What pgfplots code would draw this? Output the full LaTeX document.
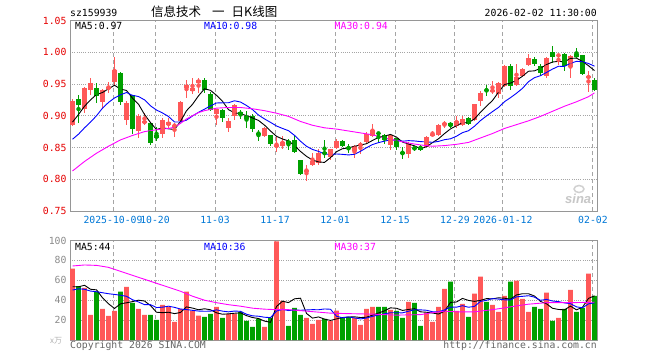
\documentclass[border=0pt]{standalone}
\usepackage{pgfplots}
\pgfplotsset{compat=1.18}
\usepackage{pgfplotstable}
\usepackage{fontspec}
\setmainfont{DejaVu Sans Mono}
\newfontfamily\cjk{Noto Sans CJK SC}
\newfontfamily\logofont{Liberation Sans}
\definecolor{upred}{RGB}{255,88,88}
\definecolor{dngreen}{RGB}{0,160,0}
\definecolor{tickblue}{RGB}{0,120,215}
\definecolor{framegray}{RGB}{150,150,150}
\definecolor{gridgray}{RGB}{165,165,165}
\definecolor{mablue}{RGB}{0,0,255}
\definecolor{mamag}{RGB}{255,0,255}
\definecolor{axred}{RGB}{230,0,0}
\definecolor{labgray}{RGB}{140,140,140}

\pgfplotstableread{
n o h l c v
0 0.886 0.926 0.884 0.924 71.7
2 0.911 0.946 0.904 0.944 52.5
3 0.941 0.959 0.933 0.951 25.3
5 0.921 0.942 0.910 0.940 31.3
6 0.942 0.953 0.936 0.946 24.2
7 0.953 0.992 0.949 0.972 29.3
9 0.893 0.924 0.885 0.920 53.5
11 0.876 0.902 0.865 0.899 31.3
12 0.889 0.905 0.886 0.891 25.3
15 0.872 0.896 0.865 0.894 35.4
16 0.885 0.896 0.879 0.890 33.3
17 0.883 0.889 0.867 0.886 18.2
18 0.892 0.923 0.890 0.921 31.3
19 0.943 0.956 0.928 0.949 48.5
20 0.939 0.959 0.935 0.944 29.3
21 0.951 0.959 0.936 0.957 24.6
24 0.903 0.911 0.886 0.910 33.3
26 0.881 0.896 0.874 0.891 26.3
27 0.899 0.919 0.894 0.917 26.3
32 0.868 0.882 0.867 0.880 13.1
34 0.852 0.866 0.843 0.853 99.0
35 0.852 0.868 0.847 0.858 39.4
39 0.813 0.822 0.797 0.8145 22.2
40 0.822 0.841 0.821 0.829 16.2
41 0.825 0.847 0.822 0.841 20.2
43 0.835 0.848 0.831 0.847 18.9
44 0.849 0.863 0.848 0.861 29.6
47 0.844 0.854 0.833 0.8525 22.2
48 0.8525 0.859 0.840 0.856 15.2
49 0.858 0.874 0.856 0.872 31.3
50 0.868 0.887 0.866 0.878 33.3
53 0.854 0.871 0.846 0.8695 30.3
56 0.839 0.858 0.833 0.856 38.4
59 0.8515 0.868 0.851 0.867 27.3
60 0.869 0.876 0.868 0.8715 18.2
61 0.869 0.887 0.868 0.886 33.3
62 0.886 0.891 0.881 0.8887 51.5
64 0.884 0.899 0.881 0.892 29.3
65 0.886 0.899 0.884 0.895 36.4
67 0.893 0.919 0.892 0.918 46.5
68 0.923 0.9385 0.915 0.936 63.6
70 0.939 0.954 0.935 0.940 35.4
71 0.935 0.9526 0.928 0.9515 28.3
72 0.947 0.980 0.946 0.979 44.4
74 0.949 0.982 0.947 0.961 59.6
75 0.962 0.975 0.961 0.973 41.4
76 0.980 0.997 0.978 0.9906 28.3
79 0.962 0.992 0.959 0.9906 47.5
81 0.994 0.996 0.980 0.996 22.2
83 0.977 0.996 0.959 0.994 50.5
86 0.959 0.971 0.937 0.963 66.7
}\tabUp

\pgfplotstableread{
n o h l c v
1 0.927 0.932 0.889 0.917 54.2
4 0.944 0.951 0.920 0.931 48.5
8 0.968 0.969 0.917 0.921 48.5
10 0.932 0.933 0.871 0.879 37.4
13 0.889 0.890 0.854 0.857 25.3
14 0.869 0.883 0.860 0.865 20.2
22 0.956 0.959 0.936 0.941 23.2
23 0.935 0.938 0.907 0.909 26.3
25 0.909 0.910 0.890 0.897 22.2
28 0.906 0.909 0.895 0.901 28.3
29 0.900 0.908 0.880 0.895 19.2
30 0.899 0.902 0.874 0.879 13.1
31 0.873 0.878 0.861 0.871 21.2
33 0.869 0.869 0.852 0.855 22.2
36 0.860 0.864 0.846 0.856 14.1
37 0.8625 0.868 0.842 0.843 32.3
38 0.831 0.831 0.807 0.809 25.3
42 0.843 0.8625 0.834 0.839 21.2
45 0.860 0.862 0.8515 0.8525 22.9
46 0.8505 0.856 0.842 0.847 22.9
51 0.873 0.875 0.858 0.8715 33.3
52 0.870 0.872 0.856 0.862 33.3
54 0.865 0.8655 0.846 0.851 29.3
55 0.843 0.8515 0.832 0.839 22.2
57 0.850 0.8525 0.845 0.8475 37.4
58 0.8515 0.8535 0.845 0.8465 14.1
63 0.8887 0.890 0.881 0.8835 58.6
66 0.897 0.898 0.885 0.8865 23.2
69 0.9406 0.949 0.931 0.9396 38.4
73 0.979 0.982 0.941 0.947 58.6
77 0.989 0.993 0.978 0.982 33.3
78 0.9786 0.982 0.963 0.967 31.3
80 1.000 1.010 0.983 0.993 19.2
82 0.997 0.9995 0.971 0.978 31.3
84 0.997 1.006 0.9906 0.993 28.3
85 0.995 0.996 0.964 0.966 32.3
87 0.956 0.959 0.9385 0.940 44.4
}\tabDn

\pgfplotsset{kline/.style={
  scale only axis, width=527bp,
  xmin=-0.42, xmax=87.42,
  axis line style={framegray, line width=1bp},
  major tick length=0pt,
  xtick={6.75,13.75,23.75,33.75,43.75,53.75,63.75,71.75,86.75},
  xmajorgrids, ymajorgrids,
  x grid style={gridgray, line width=1bp, dash pattern=on 4bp off 3bp},
  y grid style={gridgray, line width=0.8bp, dash pattern=on 1bp off 1.2bp},
  tick label style={font=\fontsize{9.8bp}{12bp}\selectfont},
}}

\newcommand{\candles}[2]{%
  \addplot[#2, only marks, mark=none, forget plot,
    error bars/.cd, y dir=both, y explicit, error mark=none,
    error bar style={#2, line width=1bp}]
    table[x=n, y expr={(\thisrow{h}+\thisrow{l})/2}, y error expr={(\thisrow{h}-\thisrow{l})/2}] {#1};
  \addplot[#2, only marks, mark=none, forget plot,
    error bars/.cd, y dir=both, y explicit, error mark=none,
    error bar style={#2, line width=4.7bp}]
    table[x=n, y expr={(\thisrow{o}+\thisrow{c})/2}, y error expr={max(abs(\thisrow{c}-\thisrow{o})/2,0.0008)}] {#1};
}

\begin{document}
\begin{tikzpicture}
\fill[white] (0bp,0bp) rectangle (660bp,-360bp);

\begin{axis}[kline,
  at={(70bp,-20.5bp)}, anchor=north west, height=190.5bp,
  ymin=0.75, ymax=1.05,
  ytick={0.75,0.8,0.85,0.9,0.95,1,1.05},
  yticklabels={0.75,0.80,0.85,0.90,0.95,1.00,1.05},
  y tick label style={text=axred},
  xticklabels={2025-10-09,10-20,11-03,11-17,12-01,12-15,12-29,2026-01-12,02-02},
  x tick label style={text=tickblue, yshift=-1.5bp},
]
\candles{\tabUp}{upred}
\candles{\tabDn}{dngreen}
\addplot[black, line width=0.9bp, mark=none] coordinates {(0,0.890)(1,0.902)(2,0.915)(3,0.925)(4,0.9334)(5,0.9366)(6,0.9424)(7,0.948)(8,0.942)(9,0.9398)(10,0.9276)(11,0.9182)(12,0.902)(13,0.8892)(14,0.8782)(15,0.8812)(16,0.8794)(17,0.8784)(18,0.8912)(19,0.908)(20,0.918)(21,0.9314)(22,0.9424)(23,0.940)(24,0.9322)(25,0.9228)(26,0.9096)(27,0.9048)(28,0.9032)(29,0.9002)(30,0.8966)(31,0.8926)(32,0.8852)(33,0.876)(34,0.8676)(35,0.8634)(36,0.8604)(37,0.853)(38,0.8438)(39,0.8361)(40,0.8303)(41,0.8273)(42,0.8265)(43,0.8341)(44,0.8434)(45,0.8481)(46,0.8493)(47,0.852)(48,0.8538)(49,0.856)(50,0.8611)(51,0.866)(52,0.8679)(53,0.8706)(54,0.8664)(55,0.8586)(56,0.8555)(57,0.8526)(58,0.848)(59,0.8512)(60,0.8577)(61,0.8637)(62,0.8719)(63,0.8793)(64,0.8843)(65,0.889)(66,0.8891)(67,0.895)(68,0.9055)(69,0.915)(70,0.924)(71,0.937)(72,0.9492)(73,0.9514)(74,0.9557)(75,0.9623)(76,0.9701)(77,0.9707)(78,0.9747)(79,0.9806)(80,0.9846)(81,0.9857)(82,0.9849)(83,0.9903)(84,0.9908)(85,0.9854)(86,0.9788)(87,0.9712)};
\addplot[mablue, line width=0.9bp, mark=none] coordinates {(0,0.863)(1,0.871)(2,0.881)(3,0.890)(4,0.900)(5,0.912)(6,0.921)(7,0.928)(8,0.933)(9,0.9366)(10,0.9321)(11,0.9303)(12,0.925)(13,0.9156)(14,0.909)(15,0.9044)(16,0.8988)(17,0.8902)(18,0.8902)(19,0.8931)(20,0.8996)(21,0.9054)(22,0.9104)(23,0.9156)(24,0.9201)(25,0.9204)(26,0.9205)(27,0.9236)(28,0.9216)(29,0.9162)(30,0.9097)(31,0.9011)(32,0.895)(33,0.8896)(34,0.8839)(35,0.880)(36,0.8765)(37,0.8691)(38,0.8599)(39,0.8519)(40,0.8469)(41,0.8439)(42,0.8398)(43,0.839)(44,0.8398)(45,0.8392)(46,0.8383)(47,0.8393)(48,0.844)(49,0.8497)(50,0.8546)(51,0.8577)(52,0.860)(53,0.8622)(54,0.8612)(55,0.8599)(56,0.8608)(57,0.8603)(58,0.8593)(59,0.8588)(60,0.8582)(61,0.8596)(62,0.8623)(63,0.8637)(64,0.8678)(65,0.8734)(66,0.8764)(67,0.8835)(68,0.8924)(69,0.8997)(70,0.9065)(71,0.9131)(72,0.9221)(73,0.9285)(74,0.9354)(75,0.9432)(76,0.9536)(77,0.960)(78,0.9631)(79,0.9682)(80,0.9735)(81,0.9779)(82,0.9778)(83,0.9825)(84,0.9857)(85,0.985)(86,0.9823)(87,0.9781)};
\addplot[mamag, line width=0.9bp, mark=none] coordinates {(0,0.813)(2,0.828)(4,0.841)(6,0.852)(8,0.862)(10,0.869)(12,0.875)(14,0.878)(16,0.880)(17,0.882)(18,0.888)(19,0.895)(20,0.900)(21,0.905)(22,0.908)(23,0.910)(24,0.912)(26,0.913)(28,0.913)(30,0.911)(32,0.908)(34,0.904)(36,0.899)(38,0.891)(40,0.885)(42,0.881)(44,0.879)(46,0.876)(48,0.873)(50,0.870)(52,0.865)(54,0.861)(56,0.857)(58,0.854)(60,0.852)(62,0.853)(64,0.855)(66,0.858)(68,0.865)(70,0.872)(72,0.880)(74,0.886)(76,0.892)(78,0.899)(80,0.907)(82,0.915)(84,0.922)(86,0.930)(87,0.936)};
\end{axis}

\begin{axis}[kline,
  at={(70bp,-240.5bp)}, anchor=north west, height=99.5bp,
  ymin=0, ymax=100,
  ytick={20,40,60,80,100},
  yticklabels={20,40,60,80,100},
  y tick label style={text=labgray},
  xticklabels={},
]
\addplot[ybar, bar width=4.7bp, bar shift=0pt, fill=upred, draw=none] table[x=n, y=v] {\tabUp};
\addplot[ybar, bar width=4.7bp, bar shift=0pt, fill=dngreen, draw=none] table[x=n, y=v] {\tabDn};
\addplot[black, line width=0.9bp, mark=none] coordinates {(0,53.5)(1,53.5)(2,55)(3,51)(4,50.4)(5,42.4)(6,36.4)(7,31.7)(8,36.4)(9,37.4)(10,38.6)(11,40)(12,39.2)(13,34.6)(14,27.9)(15,27.5)(16,27.9)(17,26.5)(18,27.7)(19,33.3)(20,32.1)(21,30.4)(22,31.4)(23,30.4)(24,27.3)(25,25.9)(26,26.3)(27,26.9)(28,27.3)(29,24.5)(30,22.6)(31,21.6)(32,19.0)(33,17.8)(34,33.7)(35,39.0)(36,37.6)(37,41.4)(38,42.0)(39,26.7)(40,22.0)(41,23.2)(42,21.0)(43,19.7)(44,21.2)(45,22.6)(46,23.1)(47,23.3)(48,22.6)(49,22.9)(50,25.0)(51,27.1)(52,29.3)(53,32.3)(54,31.9)(55,29.7)(56,30.7)(57,31.5)(58,28.3)(59,27.9)(60,27.1)(61,26.1)(62,28.9)(63,37.8)(64,38.2)(65,41.8)(66,39.8)(67,38.8)(68,39.8)(69,41.6)(70,41.4)(71,42.4)(72,42.0)(73,41.0)(74,45.3)(75,46.5)(76,46.5)(77,44.2)(78,38.8)(79,36.4)(80,31.9)(81,30.7)(82,30.3)(83,34.1)(84,30.3)(85,32.9)(86,41.8)(87,44.4)};
\addplot[mablue, line width=0.9bp, mark=none] coordinates {(0,50.2)(1,51.5)(2,51)(3,49.2)(4,48.5)(5,47.5)(6,46.5)(7,45.8)(8,45)(9,43.9)(10,40.5)(11,38.2)(12,35.5)(13,35.5)(14,32.6)(15,33.0)(16,34.0)(17,32.8)(18,31.1)(19,30.6)(20,29.8)(21,29.1)(22,28.9)(23,29.0)(24,30.3)(25,29.0)(26,28.3)(27,29.1)(28,28.8)(29,25.9)(30,24.3)(31,23.9)(32,22.9)(33,22.5)(34,29.1)(35,30.8)(36,29.6)(37,30.2)(38,29.9)(39,30.2)(40,30.5)(41,30.4)(42,31.2)(43,30.9)(44,23.9)(45,22.3)(46,23.2)(47,22.2)(48,21.2)(49,22.1)(50,23.8)(51,25.1)(52,26.3)(53,27.4)(54,27.4)(55,27.3)(56,28.9)(57,30.4)(58,30.3)(59,29.9)(60,28.4)(61,28.4)(62,30.2)(63,33.0)(64,33.0)(65,34.5)(66,32.9)(67,33.8)(68,38.8)(69,39.9)(70,41.6)(71,41.1)(72,40.4)(73,40.4)(74,43.4)(75,43.9)(76,44.5)(77,43.1)(78,39.9)(79,40.8)(80,39.2)(81,38.6)(82,37.3)(83,36.5)(84,33.3)(85,32.4)(86,36.3)(87,37.4)};
\addplot[mamag, line width=0.9bp, mark=none] coordinates {(0,74.4)(2,75.4)(4,75)(6,73)(8,69)(10,65)(12,61)(14,57)(16,53)(18,49)(20,44)(22,40)(24,37.5)(26,35.5)(28,34)(30,32)(32,31)(34,30.5)(36,30.5)(38,29.5)(40,28.5)(43,27)(46,26.5)(50,26)(54,25)(58,25.5)(60,27.5)(62,29)(64,28.3)(67,28.3)(70,30.5)(72,32.3)(74,34.3)(76,36)(79,37.5)(83,37.5)(87,38)};
\end{axis}

% header texts
\node[anchor=base west, inner sep=0pt, font=\fontsize{9.8bp}{12bp}\selectfont] at (70bp,-16.7bp) {sz159939};
\node[anchor=base west, inner sep=0pt, font=\cjk\fontsize{12.5bp}{14bp}\selectfont] at (151bp,-16bp) {信息技术};
\node[anchor=base west, inner sep=0pt, font=\cjk\fontsize{12.5bp}{14bp}\selectfont] at (212bp,-16bp) {一};
\node[anchor=base west, inner sep=0pt, font=\cjk\fontsize{12.5bp}{14bp}\selectfont] at (231.5bp,-16bp) {日K线图};
\node[anchor=base east, inner sep=0pt, font=\fontsize{9.8bp}{12bp}\selectfont] at (597bp,-16.7bp) {2026-02-02 11:30:00};
% MA labels price
\node[anchor=base west, inner sep=0pt, font=\fontsize{9.8bp}{12bp}\selectfont, text=black] at (75bp,-29.3bp) {MA5:0.97};
\node[anchor=base west, inner sep=0pt, font=\fontsize{9.8bp}{12bp}\selectfont, text=mablue] at (204bp,-29.3bp) {MA10:0.98};
\node[anchor=base west, inner sep=0pt, font=\fontsize{9.8bp}{12bp}\selectfont, text=mamag] at (334.5bp,-29.3bp) {MA30:0.94};
% MA labels volume
\node[anchor=base west, inner sep=0pt, font=\fontsize{9.8bp}{12bp}\selectfont, text=black] at (75bp,-250bp) {MA5:44};
\node[anchor=base west, inner sep=0pt, font=\fontsize{9.8bp}{12bp}\selectfont, text=mablue] at (204bp,-250bp) {MA10:36};
\node[anchor=base west, inner sep=0pt, font=\fontsize{9.8bp}{12bp}\selectfont, text=mamag] at (334.5bp,-250bp) {MA30:37};
% footer
\node[anchor=base west, inner sep=0pt, font=\fontsize{9.8bp}{12bp}\selectfont, text=black!60] at (70bp,-348.3bp) {Copyright 2026 SINA.COM};
\node[anchor=base east, inner sep=0pt, font=\fontsize{9.8bp}{12bp}\selectfont, text=black!60] at (597bp,-348.3bp) {http://finance.sina.com.cn};
\node[anchor=base west, inner sep=0pt, font=\cjk\fontsize{8bp}{10bp}\selectfont, text=black!30] at (50bp,-343.5bp) {x万};
% watermark
\node[anchor=base west, inner sep=0pt, font=\logofont\bfseries\itshape\fontsize{13bp}{15bp}\selectfont, text=black!22] at (565bp,-203bp) {sina};
\draw[black!18, line width=1.5bp] (579bp,-189bp) ellipse (5bp and 3.5bp);
\end{tikzpicture}
\end{document}
